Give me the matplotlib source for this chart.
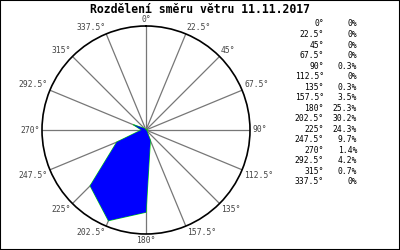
import numpy as np
import matplotlib
matplotlib.use('Agg')
import matplotlib.pyplot as plt
from matplotlib.patches import Rectangle

# smery vetru (stupne) a cetnost v %
directions = [0, 22.5, 45, 67.5, 90, 112.5, 135, 157.5,
              180, 202.5, 225, 247.5, 270, 292.5, 315, 337.5]
dir_labels = ['0', '22.5', '45', '67.5', '90', '112.5', '135', '157.5',
              '180', '202.5', '225', '247.5', '270', '292.5', '315', '337.5']
percent = [0, 0, 0, 0, 0.3, 0, 0.3, 3.5,
           25.3, 30.2, 24.3, 9.7, 1.4, 4.2, 0.7, 0]
pct_labels = ['0%', '0%', '0%', '0%', '0.3%', '0%', '0.3%', '3.5%',
              '25.3%', '30.2%', '24.3%', '9.7%', '1.4%', '4.2%', '0.7%', '0%']
title = 'Rozdělení směru větru 11.11.2017'

mono = 'DejaVu Sans Mono'
rmax = 32

fig = plt.figure(figsize=(4, 2.5), dpi=100)
fig.patch.set_facecolor('white')
fig.patches.append(Rectangle((0, 0), 1, 1, transform=fig.transFigure,
                             fill=False, edgecolor='black', lw=1.5))

ax = fig.add_axes([0.105, 0.064, 0.52, 0.832], projection='polar')
ax.set_theta_zero_location('N')
ax.set_theta_direction(-1)

theta = np.deg2rad(directions + [directions[0]])
r = percent + [percent[0]]
ax.plot(theta, r, color='#00dd00', lw=0.8, zorder=2)
ax.fill(theta, r, color='#0000ff', lw=0, zorder=3)

ax.set_ylim(0, rmax)
ax.set_yticks([])
ax.set_xticks(np.deg2rad(directions))
ax.set_xticklabels([])
ax.xaxis.grid(True, color='#777777', lw=0.9, zorder=1)
ax.set_axisbelow(True)
ax.spines['polar'].set_color('black')
ax.spines['polar'].set_linewidth(1.2)

# popisky smeru tesne u kruhu
for d, lab in zip(directions, dir_labels):
    s, c = np.sin(np.deg2rad(d)), np.cos(np.deg2rad(d))
    ha = 'left' if s > 0.1 else ('right' if s < -0.1 else 'center')
    if abs(c) < 0.1:
        va = 'center'
    elif c > 0:
        va = 'bottom'
    else:
        va = 'top'
    ax.text(np.deg2rad(d), rmax * 1.02, lab + '°', ha=ha, va=va,
            fontsize=5.8, family=mono, color='#444444', clip_on=False)

fig.text(0.5, 0.963, title, ha='center', va='center',
         fontsize=8.3, fontweight='bold', family=mono)

# tabulka vpravo
y0 = 1 - 24 / 250.
dy = 10.53 / 250.
for i in range(len(directions)):
    y = y0 - i * dy
    fig.text(0.81, y, dir_labels[i] + '°', ha='right', va='center',
             fontsize=5.8, family=mono)
    fig.text(0.893, y, pct_labels[i], ha='right', va='center',
             fontsize=5.8, family=mono)

fig.savefig('out.png', dpi=100)
